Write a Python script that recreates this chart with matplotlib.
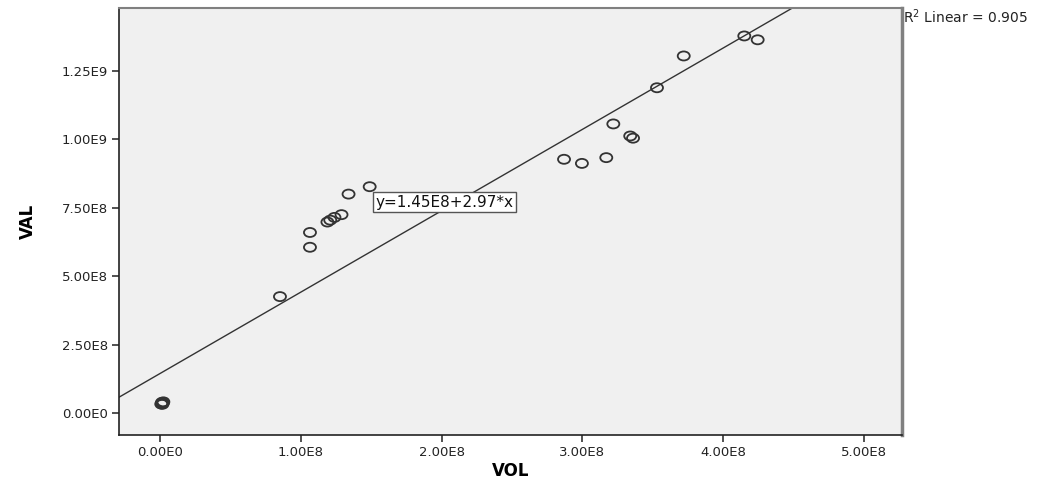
import numpy as np
import matplotlib.pyplot as plt
from matplotlib.path import Path
from matplotlib.transforms import Affine2D

vol = [1.0e6, 1.5e6, 2.0e6, 2.5e6, 1.8e6,
       0.853e8, 1.066e8, 1.066e8, 1.19e8, 1.21e8, 1.24e8, 1.29e8, 1.34e8, 1.49e8,
       2.87e8, 2.997e8, 3.17e8, 3.22e8, 3.34e8, 3.36e8, 3.53e8, 3.72e8, 4.15e8, 4.245e8]
val = [3.4e7, 4.0e7, 3.7e7, 4.2e7, 3.3e7,
       4.26e8, 6.06e8, 6.60e8, 6.98e8, 7.05e8, 7.15e8, 7.25e8, 8.00e8, 8.27e8,
       9.27e8, 9.12e8, 9.33e8, 10.56e8, 10.12e8, 10.04e8, 11.88e8, 13.04e8, 13.77e8, 13.63e8]
intercept = 1.45e8
slope = 2.97
r2 = 0.905

xticks = [0, 1e8, 2e8, 3e8, 4e8, 5e8]
xticklabels = ['0.00E0', '1.00E8', '2.00E8', '3.00E8', '4.00E8', '5.00E8']
yticks = [0, 2.5e8, 5e8, 7.5e8, 1e9, 1.25e9]
yticklabels = ['0.00E0', '2.50E8', '5.00E8', '7.50E8', '1.00E9', '1.25E9']

plt.rcParams['font.family'] = ['DejaVu Sans']

fig = plt.figure(figsize=(10.55, 4.82), dpi=100)
ax = fig.add_axes([0.1128, 0.0975, 0.855 - 0.1128, 0.9834 - 0.0975])
ax.set_facecolor('#f0f0f0')

xmin, xmax = -0.29e8, 5.27e8
ymin, ymax = -0.79e8, 14.79e8
ax.set_xlim(xmin, xmax)
ax.set_ylim(ymin, ymax)

xs = np.array([xmin, xmax])
ax.plot(xs, intercept + slope * xs, color='#333333', lw=1.0, zorder=2)

# the circles in the picture are a bit wider than tall
ellipse = Path.unit_circle().transformed(Affine2D().scale(1.0, 0.75))
ax.scatter(vol, val, s=75, marker=ellipse, facecolors='none', edgecolors='#333333',
           linewidths=1.3, zorder=3)

ax.text(1.53e8, 7.71e8, 'y=1.45E8+2.97*x', fontsize=11, va='center', ha='left', color='#111111',
        bbox=dict(boxstyle='square,pad=0.15', facecolor='white', edgecolor='#555555', lw=1.0), zorder=4)

ax.set_xticks(xticks)
ax.set_xticklabels(xticklabels)
ax.set_yticks(yticks)
ax.set_yticklabels(yticklabels)
ax.tick_params(axis='both', direction='out', length=5, width=1.2, color='#333333',
               labelsize=9.5, labelcolor='#222222', pad=3)

for side in ['left', 'bottom']:
    ax.spines[side].set_color('#222222')
    ax.spines[side].set_linewidth(1.2)
ax.spines['top'].set_color('#808080')
ax.spines['top'].set_linewidth(1.5)
ax.spines['right'].set_color('#808080')
ax.spines['right'].set_linewidth(2.5)

ax.set_xlabel('VOL', fontsize=12, fontweight='bold', labelpad=2)
ax.set_ylabel('VAL', fontsize=12, fontweight='bold', labelpad=18)

fig.text(0.856, 0.965, 'R$^2$ Linear = 0.905', fontsize=10, ha='left', va='center', color='#222222')

fig.savefig('out.png', dpi=100)
